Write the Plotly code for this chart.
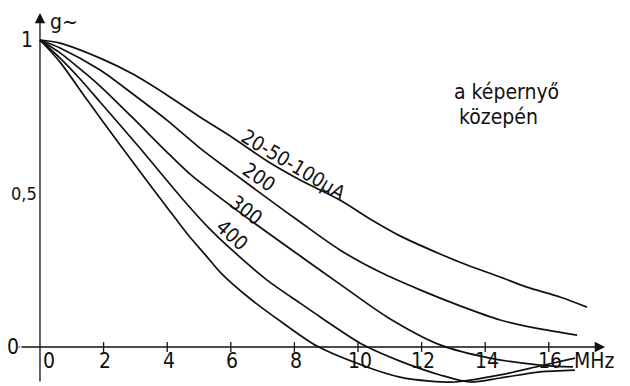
import plotly.graph_objects as go

# ---- data ----
f_c1 = [0, 0.63, 1.89, 2.92, 3.99, 5.03, 6.07, 7.14, 8.18, 9.43, 10.38, 11.32, 12.58, 13.43, 14.47, 15.31, 16.35, 17.2]
g_c1 = [1.0, 0.990, 0.941, 0.889, 0.821, 0.749, 0.681, 0.606, 0.544, 0.479, 0.417, 0.362, 0.303, 0.267, 0.228, 0.195, 0.163, 0.130]

f_c2 = [0, 0.63, 1.89, 2.92, 3.99, 5.03, 6.07, 6.92, 8.18, 9.43, 10.69, 11.95, 13.21, 14.47, 15.72, 16.89]
g_c2 = [1.0, 0.974, 0.902, 0.824, 0.739, 0.648, 0.567, 0.502, 0.407, 0.316, 0.244, 0.186, 0.134, 0.088, 0.059, 0.039]

f_c3 = [0, 0.63, 1.26, 1.89, 2.92, 3.99, 4.72, 5.35, 6.60, 8.27, 9.43, 10.91, 12.58, 14.15, 15.72, 16.76]
g_c3 = [1.0, 0.958, 0.906, 0.850, 0.746, 0.635, 0.563, 0.511, 0.414, 0.290, 0.205, 0.098, 0.007, -0.036, -0.059, -0.065]

f_c4 = [0, 0.63, 1.26, 1.89, 3.14, 4.40, 5.25, 6.07, 7.14, 8.18, 8.81, 10.16, 11.32, 12.58, 13.52, 14.47, 15.72, 16.82]
g_c4 = [1.0, 0.941, 0.873, 0.798, 0.648, 0.492, 0.394, 0.313, 0.218, 0.143, 0.098, 0.007, -0.046, -0.091, -0.114, -0.101, -0.081, -0.075]

f_c5 = [0, 0.63, 1.48, 2.52, 3.30, 3.77, 4.25, 4.70, 5.20, 5.70, 6.60, 7.64, 8.71, 10.28, 11.32, 12.26, 13.05, 14.47, 15.72, 16.82]
g_c5 = [1.0, 0.928, 0.805, 0.658, 0.550, 0.485, 0.420, 0.360, 0.300, 0.240, 0.158, 0.078, 0.003, -0.065, -0.098, -0.111, -0.114, -0.091, -0.062, -0.036]

x_ticks = [0, 2, 4, 6, 8, 10, 12, 14, 16]
x_tick_labels = ["0", "2", "4", "6", "8", "10", "12", "14", "16"]
y_ticks = [0, 0.5, 1]
y_tick_labels = ["0", "0,5", "1"]

curve_labels = ["20-50-100\u00b5A", "200", "300", "400"]

FONT = "Liberation Sans Narrow, DejaVu Sans Condensed, Liberation Sans, DejaVu Sans, sans-serif"
INK = "#111111"
FS = 21

fig = go.Figure()

for fx, gy in [(f_c1, g_c1), (f_c2, g_c2), (f_c3, g_c3), (f_c4, g_c4), (f_c5, g_c5)]:
    fig.add_trace(go.Scatter(x=fx, y=gy, mode="lines",
                             line=dict(color=INK, width=1.7, shape="spline", smoothing=0.8),
                             hoverinfo="skip", showlegend=False))

# tick marks on the frequency axis
fig.add_trace(go.Scatter(x=x_ticks[1:], y=[0.0] * (len(x_ticks) - 1), mode="markers",
                         marker=dict(symbol="line-ns-open", size=7, color=INK,
                                     line=dict(color=INK, width=1.3)),
                         hoverinfo="skip", showlegend=False))

ann = []
# axes with arrows
ann.append(dict(x=17.77, y=0, ax=-0.63, ay=0, xref="x", yref="y", axref="x", ayref="y",
                showarrow=True, arrowhead=2, arrowsize=1.6, arrowwidth=1.3, arrowcolor=INK, text=""))
ann.append(dict(x=0, y=1.088, ax=0, ay=-0.117, xref="x", yref="y", axref="x", ayref="y",
                showarrow=True, arrowhead=2, arrowsize=1.6, arrowwidth=1.3, arrowcolor=INK, text=""))

# x tick labels
for v, t in zip(x_ticks, x_tick_labels):
    xx = 0.28 if v == 0 else v + 0.05
    ann.append(dict(x=xx, y=-0.046, xref="x", yref="y", text=t, showarrow=False,
                    font=dict(family=FONT, size=FS, color=INK), xanchor="center", yanchor="middle"))
ann.append(dict(x=17.45, y=-0.046, xref="x", yref="y", text="MHz", showarrow=False,
                font=dict(family=FONT, size=FS, color=INK), xanchor="center", yanchor="middle"))

# y tick labels
ypos = {0: (-0.85, "center", FS), 0.5: (-0.5, "center", 18), 1: (-0.19, "right", FS)}
for v, t in zip(y_ticks, y_tick_labels):
    xx, anc, fs = ypos[v]
    ann.append(dict(x=xx, y=v, xref="x", yref="y", text=t, showarrow=False, borderpad=0,
                    font=dict(family=FONT, size=fs, color=INK), xanchor=anc, yanchor="middle"))
# small dash left of the zero line
ann.append(dict(x=-0.63, y=0, ax=-0.72, ay=0, xref="x", yref="y", axref="x", ayref="y",
                showarrow=True, arrowhead=0, arrowwidth=1.1, arrowcolor=INK, text=""))

ann.append(dict(x=0.25, y=1.06, xref="x", yref="y", text="g~", showarrow=False,
                font=dict(family=FONT, size=FS, color=INK), xanchor="left", yanchor="middle"))

# curve labels
label_pos = [(7.99, 0.593, 31), (6.89, 0.554, 35), (6.48, 0.446, 38), (6.04, 0.365, 42)]
for t, (xx, yy, ang) in zip(curve_labels, label_pos):
    ann.append(dict(x=xx, y=yy, xref="x", yref="y", text=t, showarrow=False, textangle=ang,
                    font=dict(family=FONT, size=20, color=INK), xanchor="center", yanchor="middle"))

ann.append(dict(x=12.96, y=0.831, xref="x", yref="y", text="a képernyő", showarrow=False,
                font=dict(family=FONT, size=FS, color=INK), xanchor="left", yanchor="middle"))
ann.append(dict(x=13.11, y=0.749, xref="x", yref="y", text="közepén", showarrow=False,
                font=dict(family=FONT, size=FS, color=INK), xanchor="left", yanchor="middle"))

# the page body adds an 8px margin, so the figure is 8px smaller and the ranges are shifted
fig.update_layout(
    width=622, height=378,
    margin=dict(l=0, r=0, t=0, b=0),
    paper_bgcolor="white", plot_bgcolor="white",
    xaxis=dict(range=[-1.006, 18.553], visible=False, fixedrange=True),
    yaxis=dict(range=[-0.127, 1.1042], visible=False, fixedrange=True),
    annotations=ann,
    showlegend=False,
)

fig.write_html("out.html")
